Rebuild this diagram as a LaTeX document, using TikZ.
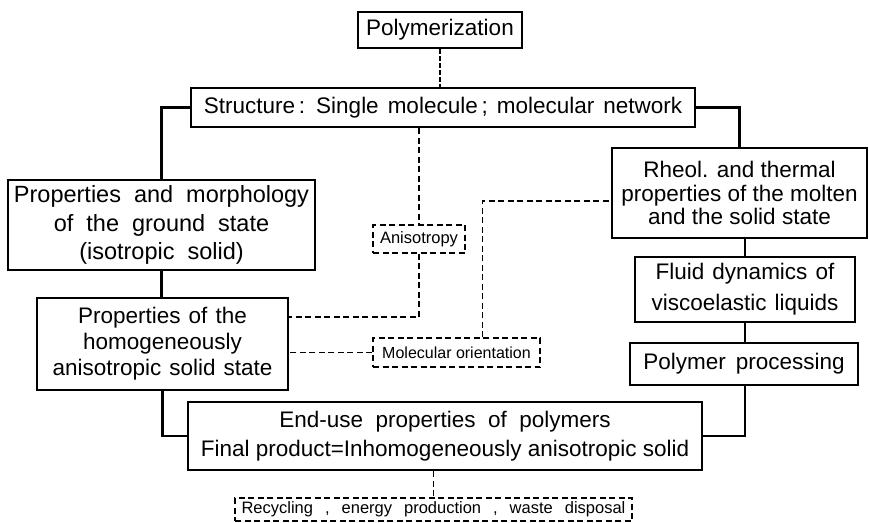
\documentclass[tikz,border=0pt]{standalone}
\usepackage{fontspec}
\setmainfont{Liberation Sans}
\newcommand{\wordgap}[1]{\spaceskip=#1\relax}
\newcommand{\gapw}{\hspace{12pt}}
\tikzset{%
  stage/.style={%
    rectangle,
    draw=black, line width=2.2pt,
    font={\fontsize{22.5}{27.5}\selectfont\wordgap{8pt}},
    align=center,
    inner sep=1pt,
  },
  aspect/.style={%
    rectangle,
    draw=black, line width=1.3pt, dash pattern=on 6pt off 3.5pt,
    font={\fontsize{16.5}{18}\selectfont},
    inner sep=1pt,
  },
  link/.style={line width=2.2pt},
  dlink/.style={line width=1.3pt, dash pattern=on 6pt off 3.5pt},
  heavydlink/.style={line width=2.6pt, dash pattern=on 4.5pt off 2.5pt},
}

\begin{document}
\begin{tikzpicture}[x=1pt, y=-1pt]
	\useasboundingbox[fill=white] (0,0) rectangle (869,522);

	\node [stage, minimum width=164pt, minimum height=36pt] (poly) at (440,30) {Polymerization};
	\node [stage, minimum width=504pt, minimum height=39pt, font={\fontsize{22.5}{27.5}\selectfont\wordgap{9pt}}] (struct) at (443,107.5) {Structure\,: Single molecule\,; molecular network};

	\node [stage, minimum width=307pt, minimum height=90pt, font={\fontsize{23.5}{28.5}\selectfont\wordgap{13pt}}] (morph) at (161.5,225) {Properties and morphology\\of the ground state\\(isotropic solid)};
	\node [stage, minimum width=251pt, minimum height=92pt, font={\fontsize{22.5}{26}\selectfont\wordgap{8pt}}] (homog) at (162.5,344) {Properties of the\\homogeneously\\anisotropic solid state};

	\node [aspect, minimum width=92pt, minimum height=28pt] (aniso) at (419,239) {Anisotropy};
	\node [aspect, minimum width=167pt, minimum height=29pt, font={\fontsize{16}{18}\selectfont}] (molor) at (456.5,352.5) {Molecular orientation};

	\node [stage, minimum width=255pt, minimum height=90pt, font={\fontsize{22.5}{23.5}\selectfont}] (rheol) at (739.5,193) {Rheol. and thermal\\properties of the molten\\and the solid state};
	\node [stage, minimum width=220pt, minimum height=65pt, font={\fontsize{22.5}{31}\selectfont\wordgap{8pt}}] (fluid) at (745,289.5) {Fluid dynamics of\\viscoelastic liquids};
	\node [stage, minimum width=228pt, minimum height=42pt, font={\fontsize{22.5}{27.5}\selectfont\wordgap{10pt}}] (proc) at (744,364) {Polymer processing};

	\node [stage, minimum width=514pt, minimum height=68pt, font={\fontsize{22.5}{29}\selectfont}] (enduse) at (445,436) {End-use\ \ properties\ \ of\ \ polymers\\Final product=Inhomogeneously anisotropic solid};
	\node [aspect, minimum width=397pt, minimum height=23pt] (recyc) at (433.5,509.5) {Recycling\gapw,\gapw energy\gapw production\gapw,\gapw waste\gapw disposal};

	\draw[heavydlink] (poly.south) -- (poly.south |- struct.north);

	\draw[link] (struct.west) -| (morph.north);
	\draw[link] (struct.east) -| (rheol.north);
	\draw[link] (morph.south) -- (morph.south |- homog.north);
	\draw[link] (homog.south) |- (enduse.west);
	\draw[link] (rheol.south -| fluid.north) -- (fluid.north);
	\draw[link] (fluid.south) -- (fluid.south |- proc.north);
	\draw[link] (proc.south -| fluid.south) |- (enduse.east);

	\draw[dlink] (struct.south -| aniso.north) -- (aniso.north);
	\draw[dlink] (aniso.south) |- ([yshift=27pt]homog.east);
	\draw[dlink] (molor.west) -- (molor.west -| homog.east);
	\draw[dlink] ([xshift=26pt]molor.north) |- ([yshift=-8pt]rheol.west);
	\draw[dlink] (enduse.south -| recyc.north) -- (recyc.north);
\end{tikzpicture}
\end{document}
